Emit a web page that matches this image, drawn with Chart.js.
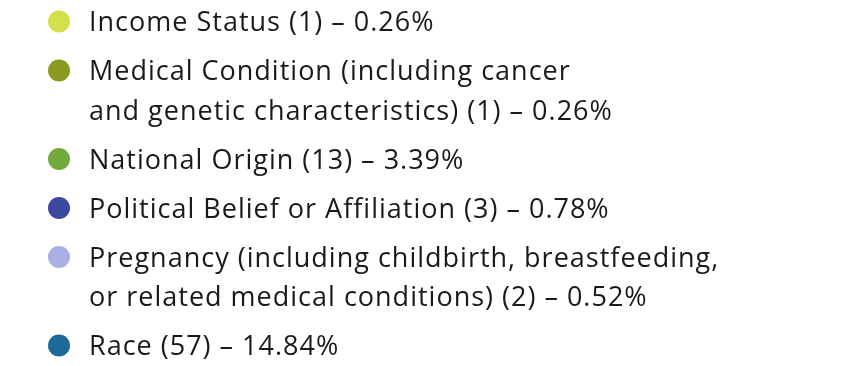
<!DOCTYPE html>
<html>
<head>
<meta charset="utf-8">
<script src="https://cdn.jsdelivr.net/npm/chart.js@4.4.1/dist/chart.umd.min.js"></script>
<style>
  html, body { margin: 0; padding: 0; background: #fff; }
  #wrap { width: 867px; height: 366px; }
</style>
</head>
<body>
<div id="wrap"><canvas id="chart" width="867" height="366"></canvas></div>
<script>
// categorias (linhas quebradas como na imagem)
const categories = [
    ['Income Status'],
    ['Medical Condition (including cancer', 'and genetic characteristics)'],
    ['National Origin'],
    ['Political Belief or Affiliation'],
    ['Pregnancy (including childbirth, breastfeeding,', 'or related medical conditions)'],
    ['Race']
];
const counts = [1, 1, 13, 3, 2, 57];
const percents = ['0.26', '0.26', '3.39', '0.78', '0.52', '14.84'];
const colors = ['#d4df4c', '#8b991f', '#72aa3b', '#3a48a0', '#a8b1e6', '#1d6a98'];

// legenda desenhada à mão, a partir dos dados do gráfico
const legendPlugin = {
    id: 'listLegend',
    afterDraw(chart) {
        const ctx = chart.ctx;
        const ds = chart.data.datasets[0];
        let y = 31; // linha de base da primeira linha
        ctx.save();
        ctx.font = '27px "Open Sans"';
        ctx.letterSpacing = '1px';
        ctx.textBaseline = 'alphabetic';
        chart.data.labels.forEach((lines, i) => {
            ctx.beginPath();
            ctx.arc(59, y - 9.5, 11, 0, Math.PI * 2);
            ctx.fillStyle = ds.backgroundColor[i];
            ctx.fill();
            ctx.fillStyle = '#1a1a1a';
            lines.forEach((line, j) => {
                let txt = line;
                if (j === lines.length - 1) txt += ` (${ds.data[i]}) – ${percents[i]}%`;
                ctx.fillText(txt, 89, y);
                if (j < lines.length - 1) y += 39.5;
            });
            y += 49;
        });
        ctx.restore();
    }
};

new Chart(document.getElementById('chart'), {
    type: 'doughnut',
    data: {
        labels: categories,
        datasets: [{
            data: counts,
            backgroundColor: colors,
            borderWidth: 0,
            radius: 0
        }]
    },
    options: {
        responsive: false,
        animation: false,
        plugins: {
            legend: { display: false },
            tooltip: { enabled: false }
        }
    },
    plugins: [legendPlugin]
});
</script>
</body>
</html>
